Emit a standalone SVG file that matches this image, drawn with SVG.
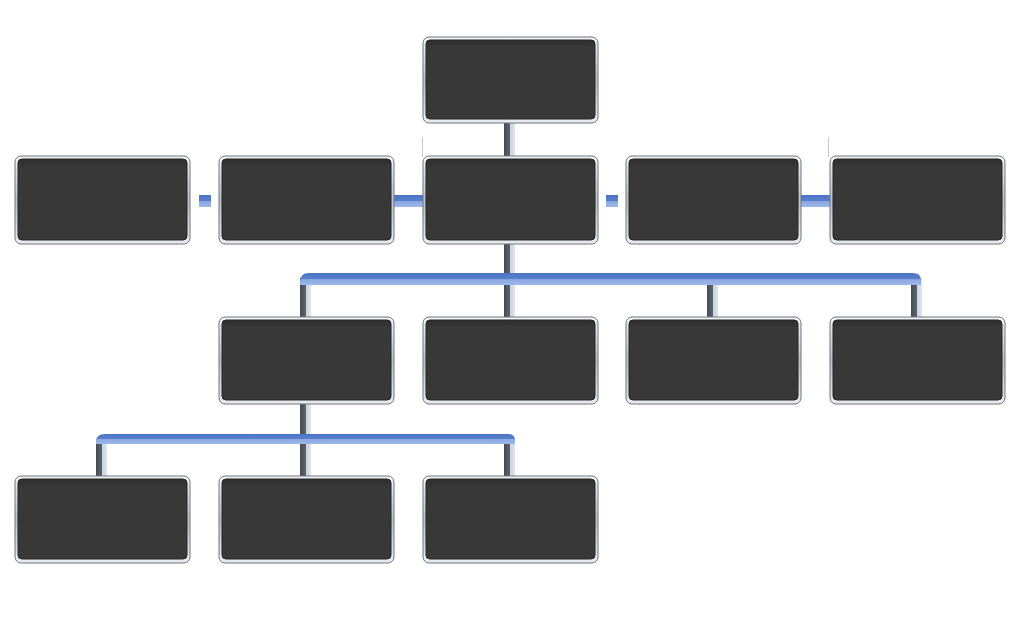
<svg xmlns="http://www.w3.org/2000/svg" width="1023" height="617" viewBox="0 0 1023 617">
  <defs>
    <linearGradient id="silver" x1="0" y1="0" x2="0" y2="1">
      <stop offset="0" stop-color="#f2f4f7"/>
      <stop offset="0.5" stop-color="#b9c0c9"/>
      <stop offset="1" stop-color="#e8ecf0"/>
    </linearGradient>
    <linearGradient id="vbar" x1="0" y1="0" x2="1" y2="0">
      <stop offset="0" stop-color="#454b52"/>
      <stop offset="0.5" stop-color="#5c636b"/>
      <stop offset="0.55" stop-color="#c9d3de"/>
      <stop offset="1" stop-color="#dde5ee"/>
    </linearGradient>
    <linearGradient id="hbar" x1="0" y1="0" x2="0" y2="1">
      <stop offset="0" stop-color="#4a74c6"/>
      <stop offset="0.5" stop-color="#5a80cc"/>
      <stop offset="0.55" stop-color="#8eaae2"/>
      <stop offset="1" stop-color="#9cb6e6"/>
    </linearGradient>
    <linearGradient id="inner" x1="0" y1="0" x2="0" y2="1">
      <stop offset="0" stop-color="#2e2e2e"/>
      <stop offset="0.1" stop-color="#393939"/>
      <stop offset="1" stop-color="#383838"/>
    </linearGradient>
  </defs>
  <style>
    .outer { fill: url(#silver); stroke: #6e747c; stroke-width: 1; }
    .inner { fill: url(#inner); stroke: #262626; stroke-width: 1; }
    .v { fill: url(#vbar); }
    .h { fill: url(#hbar); }
    .hair { stroke: #c8c8c8; stroke-width: 1; }
  </style>
  <g id="connectors">
    <!-- top to center -->
    <rect class="v" x="504" y="120" width="11" height="40"/>
    <!-- center down to bar -->
    <rect class="v" x="504" y="241" width="11" height="78"/>
    <!-- row 3 verticals -->
    <rect class="v" x="300" y="278" width="11" height="41"/>
    <rect class="v" x="707" y="278" width="11" height="41"/>
    <rect class="v" x="911" y="278" width="11" height="41"/>
    <!-- row 3 bar -->
    <path class="h" d="M300 285 L300 282 Q300 273 309 273 L913 273 Q920 273 921 279 L921 285 Z"/>
    <!-- row3 box1 down -->
    <rect class="v" x="300" y="401" width="11" height="78"/>
    <!-- row 4 verticals -->
    <rect class="v" x="96" y="439" width="11" height="40"/>
    <rect class="v" x="504" y="439" width="11" height="40"/>
    <!-- row 4 bar -->
    <path class="h" d="M96 444 L96 442 Q96 434 105 434 L508 434 Q514 434 515 439 L515 444 Z"/>
    <!-- side stubs row 2 -->
    <rect class="h" x="199" y="195" width="12" height="12"/>
    <rect class="h" x="392" y="195" width="33" height="12"/>
    <rect class="h" x="606" y="195" width="12" height="12"/>
    <rect class="h" x="799" y="195" width="33" height="12"/>
    <line class="hair" x1="422.5" y1="137" x2="422.5" y2="157"/>
    <line class="hair" x1="828.5" y1="137" x2="828.5" y2="157"/>
  </g>
  <g id="node-top">
    <rect class="outer" x="423" y="37" width="175" height="86" rx="6"/>
    <rect class="inner" x="426" y="40" width="169" height="79" rx="4"/>
  </g>
  <g id="node-r2-1">
    <rect class="outer" x="15" y="156" width="175" height="88" rx="6"/>
    <rect class="inner" x="18" y="159" width="169" height="81" rx="4"/>
  </g>
  <g id="node-r2-2">
    <rect class="outer" x="219" y="156" width="175" height="88" rx="6"/>
    <rect class="inner" x="222" y="159" width="169" height="81" rx="4"/>
  </g>
  <g id="node-r2-3">
    <rect class="outer" x="423" y="156" width="175" height="88" rx="6"/>
    <rect class="inner" x="426" y="159" width="169" height="81" rx="4"/>
  </g>
  <g id="node-r2-4">
    <rect class="outer" x="626" y="156" width="175" height="88" rx="6"/>
    <rect class="inner" x="629" y="159" width="169" height="81" rx="4"/>
  </g>
  <g id="node-r2-5">
    <rect class="outer" x="830" y="156" width="175" height="88" rx="6"/>
    <rect class="inner" x="833" y="159" width="169" height="81" rx="4"/>
  </g>
  <g id="node-r3-1">
    <rect class="outer" x="219" y="317" width="175" height="87" rx="6"/>
    <rect class="inner" x="222" y="320" width="169" height="80" rx="4"/>
  </g>
  <g id="node-r3-2">
    <rect class="outer" x="423" y="317" width="175" height="87" rx="6"/>
    <rect class="inner" x="426" y="320" width="169" height="80" rx="4"/>
  </g>
  <g id="node-r3-3">
    <rect class="outer" x="626" y="317" width="175" height="87" rx="6"/>
    <rect class="inner" x="629" y="320" width="169" height="80" rx="4"/>
  </g>
  <g id="node-r3-4">
    <rect class="outer" x="830" y="317" width="175" height="87" rx="6"/>
    <rect class="inner" x="833" y="320" width="169" height="80" rx="4"/>
  </g>
  <g id="node-r4-1">
    <rect class="outer" x="15" y="476" width="175" height="87" rx="6"/>
    <rect class="inner" x="18" y="479" width="169" height="80" rx="4"/>
  </g>
  <g id="node-r4-2">
    <rect class="outer" x="219" y="476" width="175" height="87" rx="6"/>
    <rect class="inner" x="222" y="479" width="169" height="80" rx="4"/>
  </g>
  <g id="node-r4-3">
    <rect class="outer" x="423" y="476" width="175" height="87" rx="6"/>
    <rect class="inner" x="426" y="479" width="169" height="80" rx="4"/>
  </g>
</svg>
